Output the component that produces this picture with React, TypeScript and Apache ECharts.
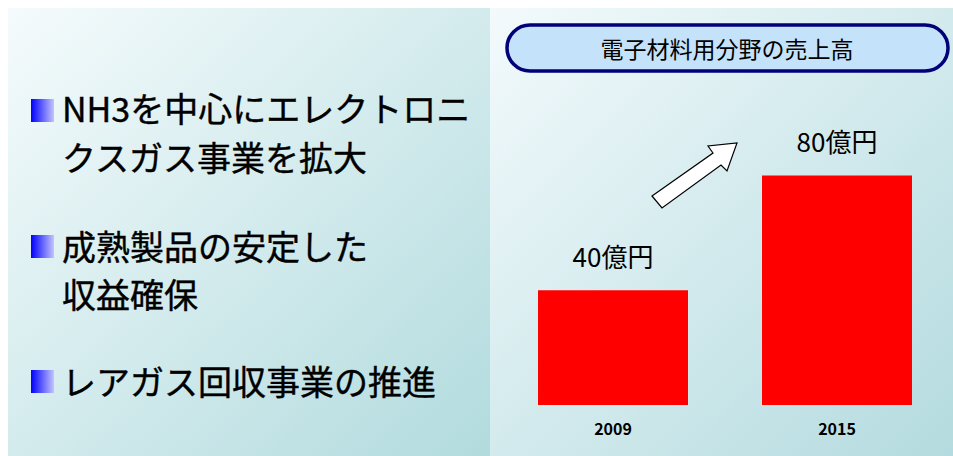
import React, { useEffect, useRef } from "react";
import * as echarts from "echarts";

const categories = ["2009", "2015"];
const salesValues = [40, 80];
const valueLabels = ["40億円", "80億円"];
const chartTitle = "電子材料用分野の売上高";
const bulletLines = [
  ["NH3を中心にエレクトロニ", "クスガス事業を拡大"],
  ["成熟製品の安定した", "収益確保"],
  ["レアガス回収事業の推進"],
];

const FONT = "'Noto Sans CJK JP', 'Noto Sans', sans-serif";

export default function App() {
  const ref = useRef<HTMLDivElement>(null);
  useEffect(() => {
    if (!ref.current) return;
    const chart = echarts.init(ref.current, null, { renderer: "svg" });

    const bg = (x: number, w: number, c1: string, c2: string) => ({
      type: "rect",
      z: -10,
      silent: true,
      shape: { x, y: 8, width: w, height: 448 },
      style: {
        fill: new echarts.graphic.LinearGradient(0, 0, 1, 1, [
          { offset: 0, color: c1 },
          { offset: 1, color: c2 },
        ]),
      },
    });

    const bulletTops = [99, 235, 370];
    const lineYs = [
      [107, 156],
      [245, 293],
      [380],
    ];
    const leftGraphics: any[] = [];
    bulletLines.forEach((lines, i) => {
      leftGraphics.push({
        type: "rect",
        z: 5,
        shape: { x: 31, y: bulletTops[i], width: 23, height: 23 },
        style: {
          fill: new echarts.graphic.LinearGradient(0, 0, 1, 0, [
            { offset: 0, color: "#0000ff" },
            { offset: 1, color: "#c4c4ff" },
          ]),
        },
      });
      lines.forEach((t, j) => {
        leftGraphics.push({
          type: "text",
          z: 5,
          x: 62,
          y: lineYs[i][j],
          style: {
            text: t,
            fontSize: 34,
            fontFamily: FONT,
            fill: "#000",
            verticalAlign: "middle",
            align: "left",
            stroke: "#000",
            lineWidth: 0.4,
          },
        });
      });
    });

    const arrowPts = [
      [652, 196],
      [713, 153],
      [708, 146],
      [737, 143],
      [727, 171],
      [721, 165],
      [662, 208],
    ];

    chart.setOption({
      animation: false,
      grid: { left: 501, right: 4, top: 118, bottom: 51 },
      xAxis: {
        type: "category",
        data: categories,
        axisLine: { show: false },
        axisTick: { show: false },
        axisLabel: {
          margin: 15,
          fontSize: 16,
          fontWeight: "bold",
          fontFamily: FONT,
          color: "#000",
        },
      },
      yAxis: {
        type: "value",
        min: 0,
        max: 100,
        show: false,
        splitLine: { show: false },
      },
      series: [
        {
          type: "bar",
          data: salesValues,
          barWidth: 150,
          itemStyle: { color: "#ff0000" },
          z: 3,
          label: {
            show: true,
            position: "top",
            distance: 22,
            fontSize: 26,
            fontFamily: FONT,
            color: "#000",
            formatter: (p: any) => valueLabels[p.dataIndex],
          },
        },
      ],
      graphic: [
        bg(8, 482, "#f5fbfc", "#b2dbde"),
        bg(490, 463, "#f3fafc", "#b4dbdf"),
        ...leftGraphics,
        {
          type: "rect",
          z: 5,
          shape: { x: 507, y: 25, width: 441, height: 46, r: 23 },
          style: { fill: "#c4e2f9", stroke: "#000078", lineWidth: 3.5 },
        },
        {
          type: "text",
          z: 6,
          x: 727,
          y: 48,
          style: {
            text: chartTitle,
            fontSize: 23,
            fontFamily: FONT,
            fill: "#000",
            align: "center",
            verticalAlign: "middle",
          },
        },
        {
          type: "polygon",
          z: 5,
          shape: { points: arrowPts },
          style: { fill: "#ffffff", stroke: "#000000", lineWidth: 1.2 },
        },
      ],
    });
    return () => chart.dispose();
  }, []);
  return (
    <div
      ref={ref}
      style={{
        position: "fixed",
        left: 0,
        top: 0,
        width: 953,
        height: 456,
        background: "#ffffff",
      }}
    />
  );
}
